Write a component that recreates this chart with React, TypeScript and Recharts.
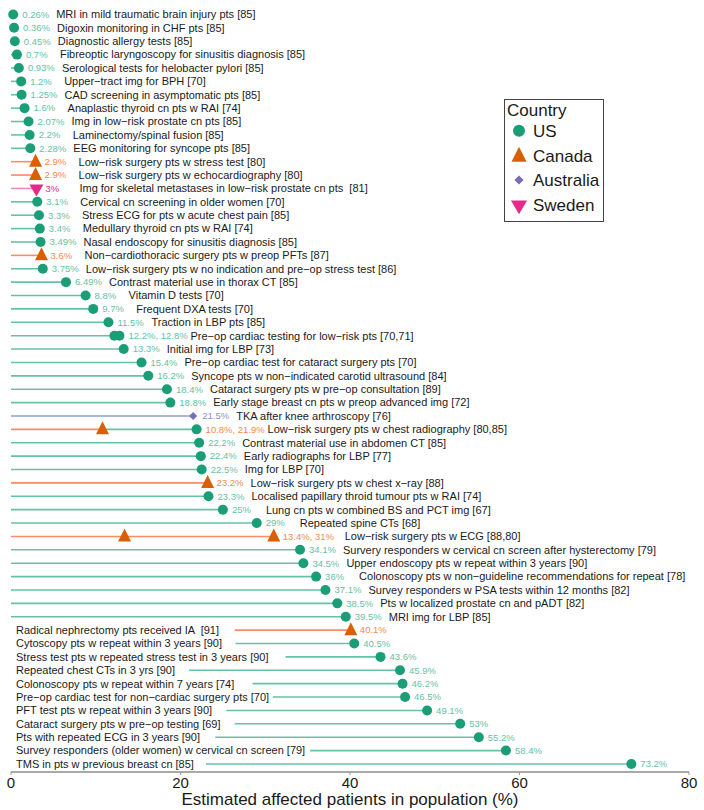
import React from "react";
import { ScatterChart, Scatter, XAxis, YAxis, ReferenceLine, Legend } from "recharts";

// one entry per row, top to bottom
const labels = [
  "MRI in mild traumatic brain injury pts [85]",
  "Digoxin monitoring in CHF pts [85]",
  "Diagnostic allergy tests [85]",
  "Fibreoptic laryngoscopy for sinusitis diagnosis [85]",
  "Serological tests for helobacter pylori [85]",
  "Upper\u2212tract img for BPH [70]",
  "CAD screening in asymptomatic pts [85]",
  "Anaplastic thyroid cn pts w RAI [74]",
  "Img in low\u2212risk prostate cn pts [85]",
  "Laminectomy/spinal fusion [85]",
  "EEG monitoring for syncope pts [85]",
  "Low\u2212risk surgery pts w stress test [80]",
  "Low\u2212risk surgery pts w echocardiography [80]",
  "Img for skeletal metastases in low\u2212risk prostate cn pts  [81]",
  "Cervical cn screening in older women [70]",
  "Stress ECG for pts w acute chest pain [85]",
  "Medullary thyroid cn pts w RAI [74]",
  "Nasal endoscopy for sinusitis diagnosis [85]",
  "Non\u2212cardiothoracic surgery pts w preop PFTs [87]",
  "Low\u2212risk surgery pts w no indication and pre\u2212op stress test [86]",
  "Contrast material use in thorax CT [85]",
  "Vitamin D tests [70]",
  "Frequent DXA tests [70]",
  "Traction in LBP pts [85]",
  "Pre\u2212op cardiac testing for low\u2212risk pts [70,71]",
  "Initial img for LBP [73]",
  "Pre\u2212op cardiac test for cataract surgery pts [70]",
  "Syncope pts w non\u2212indicated carotid ultrasound [84]",
  "Cataract surgery pts w pre\u2212op consultation [89]",
  "Early stage breast cn pts w preop advanced img [72]",
  "TKA after knee arthroscopy [76]",
  "Low\u2212risk surgery pts w chest radiography [80,85]",
  "Contrast material use in abdomen CT [85]",
  "Early radiographs for LBP [77]",
  "Img for LBP [70]",
  "Low\u2212risk surgery pts w chest x\u2212ray [88]",
  "Localised papillary throid tumour pts w RAI [74]",
  "Lung cn pts w combined BS and PCT img [67]",
  "Repeated spine CTs [68]",
  "Low\u2212risk surgery pts w ECG [88,80]",
  "Survery responders w cervical cn screen after hysterectomy [79]",
  "Upper endoscopy pts w repeat within 3 years [90]",
  "Colonoscopy pts w non\u2212guideline recommendations for repeat [78]",
  "Survey responders w PSA tests within 12 months [82]",
  "Pts w localized prostate cn and pADT [82]",
  "MRI img for LBP [85]",
  "Radical nephrectomy pts received IA  [91]",
  "Cytoscopy pts w repeat within 3 years [90]",
  "Stress test pts w repeated stress test in 3 years [90]",
  "Repeated chest CTs in 3 yrs [90]",
  "Colonoscopy pts w repeat within 7 years [74]",
  "Pre\u2212op cardiac test for non\u2212cardiac surgery pts [70]",
  "PFT test pts w repeat within 3 years [90]",
  "Cataract surgery pts w pre\u2212op testing [69]",
  "Pts with repeated ECG in 3 years [90]",
  "Survey responders (older women) w cervical cn screen [79]",
  "TMS in pts w previous breast cn [85]",
];

const values: number[][] = [
  [0.26], [0.36], [0.45], [0.7], [0.93], [1.2], [1.25], [1.6], [2.07], [2.2],
  [2.28], [2.9], [2.9], [3], [3.1], [3.3], [3.4], [3.49], [3.6], [3.75],
  [6.49], [8.8], [9.7], [11.5], [12.2, 12.8], [13.3], [15.4], [16.2], [18.4], [18.8],
  [21.5], [10.8, 21.9], [22.2], [22.4], [22.5], [23.2], [23.3], [25], [29], [13.4, 31],
  [34.1], [34.5], [36], [37.1], [38.5], [39.5], [40.1], [40.5], [43.6], [45.9],
  [46.2], [46.5], [49.1], [53], [55.2], [58.4], [73.2],
];

const countries: string[][] = [
  ["US"], ["US"], ["US"], ["US"], ["US"], ["US"], ["US"], ["US"], ["US"], ["US"],
  ["US"], ["Canada"], ["Canada"], ["Sweden"], ["US"], ["US"], ["US"], ["US"], ["Canada"], ["US"],
  ["US"], ["US"], ["US"], ["US"], ["US", "US"], ["US"], ["US"], ["US"], ["US"], ["US"],
  ["Australia"], ["Canada", "US"], ["US"], ["US"], ["US"], ["Canada"], ["US"], ["US"], ["US"], ["Canada", "Canada"],
  ["US"], ["US"], ["US"], ["US"], ["US"], ["US"], ["Canada"], ["US"], ["US"], ["US"],
  ["US"], ["US"], ["US"], ["US"], ["US"], ["US"], ["US"],
];

// rows from here down have the label on the left, line starting after it
const leftLabelFrom = 46;
const lineFrom = [26.4, 26.5, 32.4, 21.0, 28.5, 30.9, 25.4, 26.4, 24.1, 35.3, 23.0];

const countryNames = ["US", "Canada", "Australia", "Sweden"];
const xTicks = [0, 20, 40, 60, 80];

const markerColor: Record<string, string> = {
  US: "#1b9e77",
  Canada: "#d95f02",
  Australia: "#7570b3",
  Sweden: "#e7298a",
};
const lightColor: Record<string, string> = {
  US: "#66c2a5",
  Canada: "#fc8d62",
  Australia: "#8da0cb",
  Sweden: "#e78ac3",
};
const pctColor: Record<string, string> = {
  US: "#66c2a5",
  Canada: "#f58a4e",
  Australia: "#8d8fd0",
  Sweden: "#e7298a",
};

const FONT = "'Liberation Sans', Arial, sans-serif";

const rows = labels.map((label, i) => {
  const vals = values[i];
  return {
    x: Math.max(...vals),
    y: i,
    label,
    vals,
    cs: countries[i],
    pct: vals.map((v) => v + "%").join(", "),
    left: i >= leftLabelFrom,
    from: i >= leftLabelFrom ? lineFrom[i - leftLabelFrom] : 0,
  };
});

const segments: { y: number; x1: number; x2: number; color: string }[] = [];
rows.forEach((r) => {
  let prev = r.from;
  r.vals
    .map((v, j) => ({ v, c: r.cs[j] }))
    .sort((a, b) => a.v - b.v)
    .forEach((p) => {
      segments.push({ y: r.y, x1: prev, x2: p.v, color: lightColor[p.c] });
      prev = p.v;
    });
});

const pointsFor = (c: string) => {
  const pts: { x: number; y: number }[] = [];
  rows.forEach((r) => r.vals.forEach((v, j) => r.cs[j] === c && pts.push({ x: v, y: r.y })));
  return pts;
};

function markerPath(c: string, cx: number, cy: number, s: number) {
  if (c === "Canada")
    return `M${cx},${cy - 8 * s}L${cx + 6.5 * s},${cy + 5 * s}L${cx - 6.5 * s},${cy + 5 * s}Z`;
  if (c === "Australia")
    return `M${cx},${cy - 4 * s}L${cx + 4 * s},${cy}L${cx},${cy + 4 * s}L${cx - 4 * s},${cy}Z`;
  return `M${cx - 7 * s},${cy - 4 * s}L${cx + 7 * s},${cy - 4 * s}L${cx},${cy + 8 * s}Z`;
}

function Marker({ c, cx, cy, s = 1 }: { c: string; cx: number; cy: number; s?: number }) {
  if (c === "US") return <circle cx={cx} cy={cy} r={5 * s} fill={markerColor.US} />;
  return <path d={markerPath(c, cx, cy, s)} fill={markerColor[c]} />;
}

const PctAndLabel = (props: any) => {
  const { cx, cy, payload } = props;
  const gap = payload.vals.length > 1 ? 71 : 43;
  return (
    <g fontFamily={FONT}>
      <text x={cx + 9} y={cy} dy="0.35em" fontSize={9.5} fill={pctColor[payload.cs[0]]}>
        {payload.pct}
      </text>
      {!payload.left && (
        <text x={cx + gap} y={cy} dy="0.35em" fontSize={11} fill="#1a1a1a" style={{ whiteSpace: "pre" }}>
          {payload.label}
        </text>
      )}
    </g>
  );
};

const LeftLabel = (props: any) => {
  const { cx, cy, payload } = props;
  return (
    <text x={cx + 5} y={cy} dy="0.35em" fontSize={11} fontFamily={FONT} fill="#1a1a1a" style={{ whiteSpace: "pre" }}>
      {payload.label}
    </text>
  );
};

const LegendBox = () => (
  <svg width={101} height={124} style={{ display: "block", fontFamily: FONT }}>
    <rect x={0.5} y={0.5} width={99} height={122} fill="#fff" stroke="#444" />
    <text x={3} y={17} fontSize={17} fill="#1a1a1a">Country</text>
    {countryNames.map((c, i) => {
      const cy = [31.7, 57, 81, 106][i];
      return (
        <g key={c}>
          <Marker c={c} cx={15} cy={cy} s={c === "US" ? 1.2 : 1.15} />
          <text x={29} y={cy + 6} fontSize={17} fill="#1a1a1a">{c}</text>
        </g>
      );
    })}
  </svg>
);

export default function App() {
  return (
    <div style={{ position: "absolute", left: 0, top: 0, background: "#fff" }}>
      <ScatterChart width={704} height={810} margin={{ top: 0, right: 15, bottom: 0, left: 11 }}>
        <XAxis
          type="number"
          dataKey="x"
          domain={[0, 80]}
          ticks={xTicks}
          height={38}
          axisLine={{ stroke: "#555", strokeWidth: 1.2 }}
          tickLine={{ stroke: "#999" }}
          tickSize={3}
          tickMargin={2}
          tick={{ fontSize: 15, fill: "#1a1a1a", fontFamily: FONT }}
          label={{
            value: "Estimated affected patients in population (%)",
            position: "insideBottom",
            offset: 5,
            fontSize: 17,
            fill: "#1a1a1a",
            fontFamily: FONT,
          }}
        />
        <YAxis
          type="number"
          dataKey="y"
          domain={[-1.08, 56.6]}
          reversed
          width={0}
          tick={false}
          tickLine={false}
          axisLine={{ stroke: "#555", strokeWidth: 1.2 }}
        />
        {segments.map((s, i) => (
          <ReferenceLine
            key={`seg-${i}`}
            segment={[{ x: s.x1, y: s.y }, { x: s.x2, y: s.y }]}
            stroke={s.color}
            strokeWidth={1.6}
          />
        ))}
        {countryNames.map((c) => (
          <Scatter
            key={c}
            name={c}
            data={pointsFor(c)}
            isAnimationActive={false}
            shape={(p: any) => <Marker c={c} cx={p.cx} cy={p.cy} />}
          />
        ))}
        <Scatter data={rows} isAnimationActive={false} shape={PctAndLabel} legendType="none" />
        <Scatter
          data={rows.filter((r) => r.left).map((r) => ({ ...r, x: 0 }))}
          isAnimationActive={false}
          shape={LeftLabel}
          legendType="none"
        />
        <Legend
          layout="vertical"
          verticalAlign="middle"
          align="center"
          wrapperStyle={{ left: 504, top: 99, width: 101, height: 124 }}
          content={LegendBox}
        />
      </ScatterChart>
    </div>
  );
}
